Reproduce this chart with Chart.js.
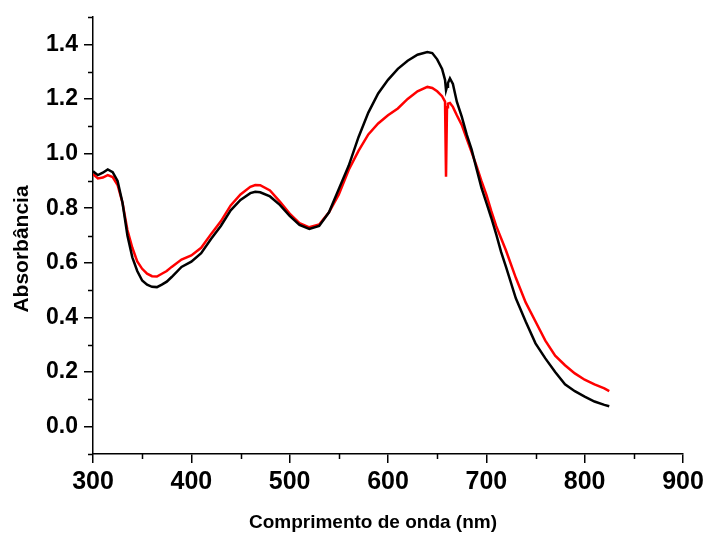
<!DOCTYPE html>
<html>
<head>
<meta charset="utf-8">
<script src="https://cdn.jsdelivr.net/npm/chart.js@4.4.1/dist/chart.umd.min.js"></script>
<style>
  html, body { margin: 0; padding: 0; background: #fff; }
  #wrap { width: 705px; height: 533px; }
</style>
</head>
<body>
<div id="wrap"><canvas id="chart" width="705" height="533"></canvas></div>
<script>
// wavelengths (nm) shared by both spectra
var wavelengths = [300,305,310,315,320,325,330,335,340,345,350,355,360,365,370,375,380,390,400,410,420,430,440,450,460,465,470,480,490,500,510,520,530,540,550,560,570,580,590,600,610,620,630,640,645,650,655,658,659,660,661,663,666,670,675,680,685,690,695,700,705,710,715,720,730,740,750,760,770,780,790,800,810,820,825];

// black spectrum
var absBlack = [0.935,0.921,0.93,0.942,0.932,0.9,0.82,0.70,0.62,0.57,0.535,0.52,0.512,0.511,0.52,0.531,0.548,0.585,0.604,0.635,0.687,0.735,0.792,0.83,0.855,0.86,0.858,0.843,0.812,0.772,0.739,0.724,0.735,0.785,0.87,0.955,1.06,1.15,1.22,1.27,1.31,1.34,1.362,1.372,1.368,1.345,1.31,1.27,1.232,1.245,1.258,1.275,1.255,1.19,1.135,1.07,1.015,0.945,0.875,0.82,0.765,0.705,0.64,0.585,0.47,0.385,0.305,0.25,0.2,0.155,0.13,0.11,0.092,0.08,0.075];

// red spectrum
var absRed = [0.925,0.909,0.912,0.921,0.914,0.885,0.82,0.72,0.655,0.605,0.578,0.56,0.551,0.55,0.56,0.57,0.585,0.612,0.627,0.655,0.705,0.752,0.81,0.85,0.878,0.885,0.884,0.865,0.824,0.78,0.745,0.73,0.74,0.785,0.85,0.94,1.01,1.07,1.11,1.14,1.165,1.2,1.228,1.244,1.24,1.228,1.21,1.19,0.915,1.17,1.183,1.185,1.171,1.14,1.105,1.055,1.005,0.955,0.9,0.85,0.79,0.735,0.69,0.645,0.545,0.455,0.385,0.315,0.26,0.225,0.195,0.172,0.155,0.14,0.13];

// tick labels
var xTicks = [300,400,500,600,700,800,900];
var xMinor = [350,450,550,650,750,850];
var yTicks = [0,0.2,0.4,0.6,0.8,1.0,1.2,1.4];
var yMinor = [-0.1,0.1,0.3,0.5,0.7,0.9,1.1,1.3,1.5];

var xTitle = 'Comprimento de onda (nm)';
var yTitle = 'Absorbância';

function pts(ys){ return wavelengths.map(function(x,i){ return { x: x, y: ys[i] }; }); }

var FONT = '"Liberation Sans", Arial, sans-serif';

// minor ticks (drawn through the scales) and the two axis titles
var extras = {
  id: 'extras',
  afterDraw: function(chart){
    var ctx = chart.ctx, xs = chart.scales.x, ys = chart.scales.y;
    ctx.save();
    ctx.strokeStyle = '#000';
    ctx.lineWidth = 1.5;
    ctx.beginPath();
    xMinor.forEach(function(v){
      var px = Math.round(xs.getPixelForValue(v)) + 0.5;
      ctx.moveTo(px, xs.top); ctx.lineTo(px, xs.top + 5);
    });
    yMinor.forEach(function(v){
      var py = Math.round(ys.getPixelForValue(v)) + 0.5;
      ctx.moveTo(ys.right, py); ctx.lineTo(ys.right - 5, py);
    });
    ctx.stroke();

    ctx.fillStyle = '#000';
    ctx.textAlign = 'center';
    ctx.textBaseline = 'alphabetic';
    ctx.font = 'bold 19px ' + FONT;
    ctx.fillText(xTitle, 373, 528);

    ctx.translate(28, 249);
    ctx.rotate(-Math.PI / 2);
    ctx.font = 'bold 21px ' + FONT;
    ctx.fillText(yTitle, 0, 0);
    ctx.restore();
  }
};

new Chart(document.getElementById('chart'), {
  type: 'line',
  data: {
    datasets: [
      { data: pts(absBlack), borderColor: '#000', borderWidth: 2.5, pointRadius: 0, tension: 0 },
      { data: pts(absRed), borderColor: '#ff0000', borderWidth: 2.5, pointRadius: 0, tension: 0 }
    ]
  },
  options: {
    responsive: false,
    animation: false,
    layout: { padding: { left: 0, right: 22, top: 17, bottom: 0 } },
    plugins: { legend: { display: false }, tooltip: { enabled: false } },
    scales: {
      x: {
        type: 'linear', min: 300, max: 900,
        afterBuildTicks: function(s){ s.ticks = xTicks.map(function(v){ return { value: v }; }); },
        afterFit: function(s){ s.height = 79; s.paddingLeft = 0; s.paddingRight = 0; },
        border: { color: '#000', width: 1.5 },
        grid: { drawOnChartArea: false, color: '#000', lineWidth: 1.5, tickLength: 9 },
        ticks: { color: '#000', font: { family: FONT, size: 25, weight: 'bold' }, padding: 4, maxRotation: 0 }
      },
      y: {
        type: 'linear', min: -0.1, max: 1.5,
        afterBuildTicks: function(s){ s.ticks = yTicks.map(function(v){ return { value: v }; }); },
        afterFit: function(s){ s.width = 93; s.paddingTop = 0; s.paddingBottom = 0; },
        border: { color: '#000', width: 1.5 },
        grid: { drawOnChartArea: false, color: '#000', lineWidth: 1.5, tickLength: 9 },
        ticks: { color: '#000', font: { family: FONT, size: 23, weight: 'bold' }, padding: 6,
                 callback: function(v){ return v.toFixed(1); } }
      }
    }
  },
  plugins: [extras]
});
</script>
</body>
</html>
